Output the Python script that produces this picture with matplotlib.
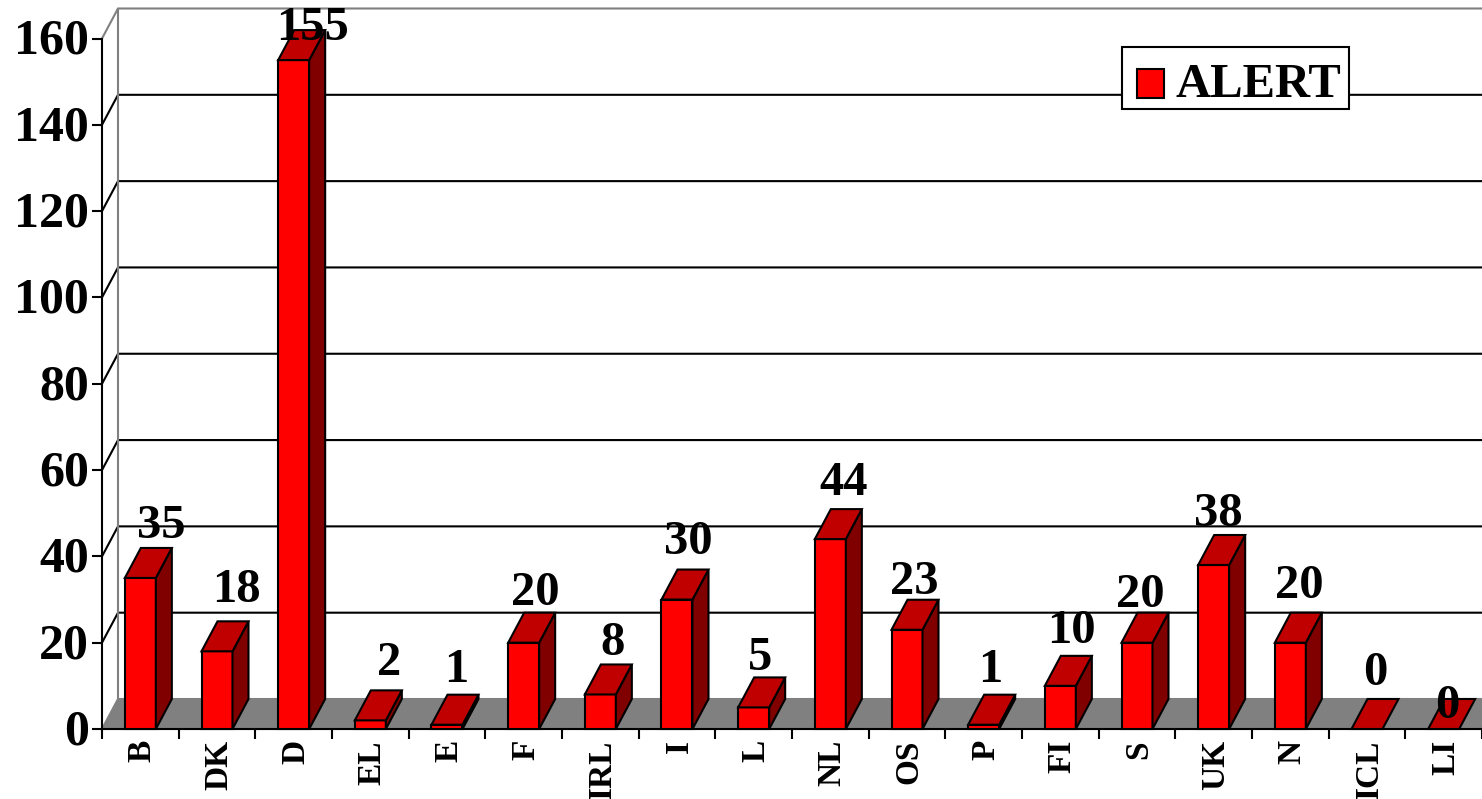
#!/usr/bin/env python3
"""3-D look column chart of ALERT counts per country."""
import matplotlib
matplotlib.use("Agg")
import matplotlib.pyplot as plt
from matplotlib.patches import Patch, Polygon, Rectangle
from matplotlib.transforms import ScaledTranslation

COUNTRIES = ["B", "DK", "D", "EL", "E", "F", "IRL", "I", "L", "NL", "OS", "P", "FI", "S", "UK", "N", "ICL", "LI"]
ALERTS = [35, 18, 155, 2, 1, 20, 8, 30, 5, 44, 23, 1, 10, 20, 38, 20, 0, 0]
Y_TICKS = [0, 20, 40, 60, 80, 100, 120, 140, 160]

# label nudges in pixels: sideways from bar centre, up from the back edge of the bar top
LABEL_DX = [21, 19, 19, 19, 9, 12, 12, 11, 6, 13, 7, 7, 11, 3, 5, 9, 8, 4]
LABEL_DY = [10, 19, -10, 15, 13, 8, 9, 16, 7, 14, 6, 13, 13, 6, 9, 15, 14, -19]

W, H = 1482, 799
X0, X1, Y0, Y160 = 102, 1482, 729, 38.5
PX_X = (X1 - X0) / len(COUNTRIES)
PX_Y = (Y0 - Y160) / 160
DX, DY = 16 / PX_X, 30 / PX_Y      # depth of the fake 3-D box, data units
BAR_W = 31 / PX_X
FONT = "Liberation Serif"
RED, TOP, SIDE, GREY = "#ff0000", "#c00000", "#800000", "#808080"
LW = 1.5

plt.rcParams.update({"font.family": FONT, "font.weight": "bold"})


def main():
    fig = plt.figure(figsize=(W / 100, H / 100), dpi=100, facecolor="white")
    ax = fig.add_axes([X0 / W, 1 - Y0 / H, (X1 - X0) / W, (Y0 - Y160) / H])
    ax.set_xlim(0, len(COUNTRIES))
    ax.set_ylim(0, 160)
    ax.patch.set_alpha(0)
    n = len(COUNTRIES)

    # floor and walls
    ax.add_patch(Polygon([(0, 0), (DX, DY), (n + DX, DY), (n + DX, 0)], closed=True,
                         fc=GREY, ec=GREY, lw=LW, clip_on=False, zorder=1))
    for v in Y_TICKS[1:-1]:
        ax.plot([0, DX, n + DX], [v, v + DY, v + DY], color="black", lw=LW, clip_on=False, zorder=1)
    ax.plot([0, DX, n + DX], [160, 160 + DY, 160 + DY], color=GREY, lw=1.5, clip_on=False, zorder=1)
    ax.plot([DX, DX], [DY, 160 + DY], color=GREY, lw=1.5, clip_on=False, zorder=1.5)

    # bars, left to right so the outlines stack the right way
    for i, v in enumerate(ALERTS):
        l = i + 0.5 - BAR_W / 2
        r = l + BAR_W
        z = 3 + i * 0.01
        if v > 0:
            ax.add_patch(Polygon([(l, 0), (r, 0), (r, v), (l, v)], closed=True, fc=RED, ec="black",
                                 lw=LW, clip_on=False, zorder=z))
            ax.add_patch(Polygon([(r, 0), (r + DX, DY), (r + DX, v + DY), (r, v)], closed=True, fc=SIDE,
                                 ec="black", lw=LW, clip_on=False, zorder=z))
        ax.add_patch(Polygon([(l, v), (l + DX, v + DY), (r + DX, v + DY), (r, v)], closed=True, fc=TOP,
                             ec="black", lw=LW, clip_on=False, zorder=z))
        ax.annotate(str(v), xy=(i + 0.5, v + DY), xytext=(LABEL_DX[i] * 0.72, LABEL_DY[i] * 0.72),
                    textcoords="offset points", ha="center", va="baseline", fontsize=35,
                    fontweight="bold", color="black", zorder=10, annotation_clip=False)

    # axes
    ax.spines["top"].set_visible(False)
    ax.spines["right"].set_visible(False)
    for s in ("left", "bottom"):
        ax.spines[s].set_linewidth(LW)
        ax.spines[s].set_zorder(2)
    ax.set_yticks(Y_TICKS)
    ax.tick_params(axis="y", length=7.5, width=LW, pad=2, labelsize=36)
    up = ScaledTranslation(0, 2 / 72 * 0.72, fig.dpi_scale_trans)
    for t in ax.get_yticklabels():
        t.set_transform(t.get_transform() + up)
    ax.set_xticks(range(n + 1))
    ax.set_xticklabels([])
    ax.tick_params(axis="x", which="major", length=7.5, width=LW)
    ax.set_xticks([i + 0.5 for i in range(n)], minor=True)
    ax.set_xticklabels(COUNTRIES, minor=True, rotation=90, fontsize=24, fontweight="bold")
    ax.tick_params(axis="x", which="minor", length=0, pad=8)
    right = ScaledTranslation(2 / 72 * 0.72, 0, fig.dpi_scale_trans)
    for t in ax.get_xticklabels(minor=True):
        t.set_transform(t.get_transform() + right)

    # legend frame is drawn apart so its box can sit at the exact size
    fig.add_artist(Rectangle((1122 / W, 1 - 109 / H), 227 / W, 62 / H, transform=fig.transFigure,
                             fc="white", ec="black", lw=LW, zorder=8))
    leg = ax.legend(handles=[Patch(fc=RED, ec="black", lw=LW, label="ALERT")], loc="upper left",
                    bbox_to_anchor=(1122 / W, 1 - 48 / H), bbox_transform=fig.transFigure,
                    borderaxespad=0, fontsize=35, fancybox=False, frameon=False,
                    handlelength=0.56, handleheight=0.56, handletextpad=0.24, borderpad=0.3)
    swatch = leg.get_patches()[0]
    swatch.set_y(swatch.get_y() - 2.9)   # keep the square where it was, only the text moves up
    leg.set_zorder(9)
    leg.remove()
    fig.add_artist(leg)

    fig.savefig("out.png", dpi=100)
    plt.close(fig)


if __name__ == "__main__":
    main()
